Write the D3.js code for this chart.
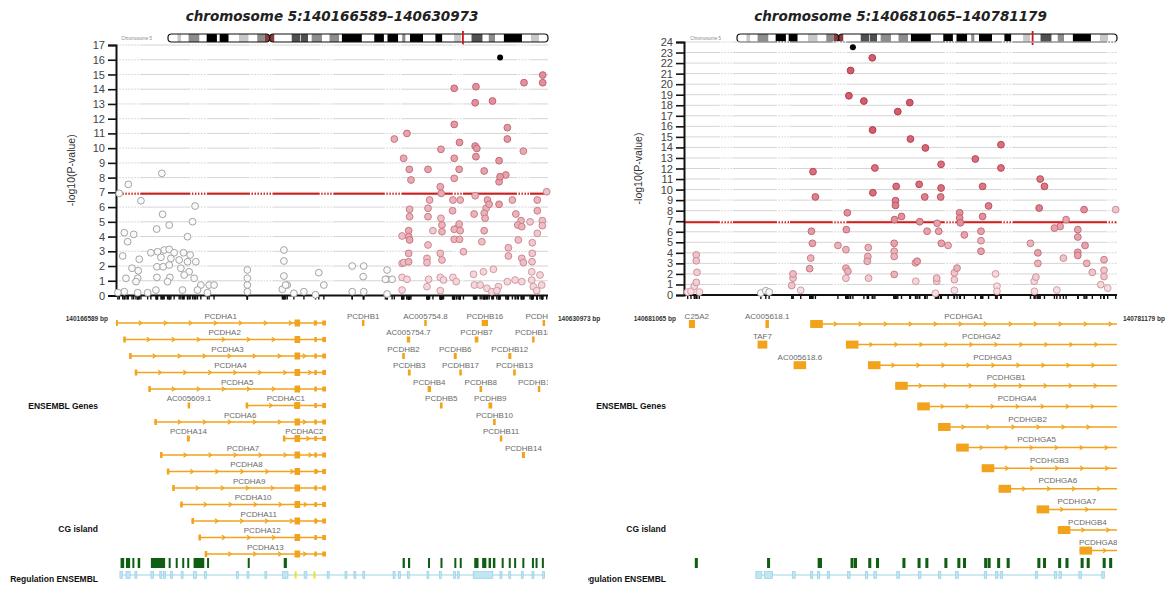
<!DOCTYPE html>
<html><head><meta charset="utf-8">
<script src="https://cdn.jsdelivr.net/npm/d3@7"></script>
<style>body{margin:0;background:#fff}svg{display:block}</style>
</head><body>
<svg id="c" width="1174" height="590"></svg>
<script>
// ---------------- DATA ----------------
const chrom = 5;
const regionLeft = [140166589, 140630973];
const regionRight = [140681065, 140781179];
const yTicksLeft = [0,1,2,3,4,5,6,7,8,9,10,11,12,13,14,15,16,17];
const yTicksRight = [0,1,2,3,4,5,6,7,8,9,10,11,12,13,14,15,16,17,18,19,20,21,22,23,24];
const threshold = 6.9;

// chr5 cytobands (Mb)
const chr5Bands = [[0,4.5,"gneg"],[4.5,6.3,"gpos25"],[6.3,9.8,"gneg"],[9.8,15,"gpos50"],[15,18.4,"gneg"],[18.4,23.3,"gpos100"],[23.3,24.6,"gneg"],[24.6,28.9,"gpos100"],[28.9,33.8,"gneg"],[33.8,38.4,"gpos25"],[38.4,42.5,"gneg"],[42.5,46.1,"gpos50"],[46.1,48.4,"acen"],[48.4,50.7,"acen"],[50.7,58.9,"gneg"],[58.9,62.9,"gpos75"],[62.9,63.2,"gneg"],[63.2,66.7,"gpos75"],[66.7,68.4,"gneg"],[68.4,73.3,"gpos50"],[73.3,76.9,"gneg"],[76.9,81.4,"gpos50"],[81.4,82.8,"gneg"],[82.8,92.3,"gpos100"],[92.3,98.2,"gneg"],[98.2,102.8,"gpos100"],[102.8,104.5,"gneg"],[104.5,109.6,"gpos100"],[109.6,111.5,"gneg"],[111.5,113.1,"gpos50"],[113.1,115.2,"gneg"],[115.2,121.4,"gpos100"],[121.4,127.3,"gneg"],[127.3,130.6,"gpos100"],[130.6,136.2,"gneg"],[136.2,139.5,"gpos25"],[139.5,144.5,"gneg"],[144.5,149.8,"gpos75"],[149.8,152.7,"gneg"],[152.7,155.7,"gpos50"],[155.7,159.9,"gneg"],[159.9,168.5,"gpos100"],[168.5,172.8,"gneg"],[172.8,176.6,"gpos25"],[176.6,180.9,"gneg"]];
const chr5Length = 180.9;
const chr5Centromere = 48.4;

// SNPs: [kb from region start, -log10(P), r2 with lead SNP]
const leftSnps = [
[3.5,6.93,.05],[13.2,7.54,.05],[49.3,8.29,.05],[26.8,6.43,.05],[85.0,6.07,.05],[50.1,5.51,.05],[82.3,5.01,.05],[57.2,4.78,.05],[43.7,4.51,.05],[8.9,4.26,.05],[19.0,4.15,.05],[12.5,3.65,.05],[76.9,3.99,.05],[7.2,2.68,.05],[25.0,2.46,.05],[37.5,2.9,.05],[44.7,2.97,.05],[51.8,3.09,.05],[57.2,3.13,.05],[62.5,2.9,.05],[72.6,2.9,.05],[79.7,2.75,.05],[85.8,2.29,.05],[48.3,2.59,.05],[59.0,2.52,.05],[67.9,2.41,.05],[76.9,2.29,.05],[44.0,1.95,.05],[50.7,1.95,.05],[57.2,2.07,.05],[69.7,1.85,.05],[78.6,1.61,.05],[17.2,1.85,.05],[23.9,1.68,.05],[10.7,1.17,.05],[23.3,1.17,.05],[44.0,1.23,.05],[57.9,1.23,.05],[73.3,1.39,.05],[84.0,1.17,.05],[91.2,0.71,.05],[100.1,0.71,.05],[105.4,0.71,.05],[21.5,0.94,.05],[55.4,0.94,.05],[8.9,0.26,.05],[23.3,0.19,.05],[42.9,0.37,.05],[71.5,0.37,.05],[87.6,0.37,.05],[98.3,0.19,.05],[34.0,0.19,.05],[2.0,0.2,.05],[141.2,1.73,.05],[141.2,1.17,.05],[141.2,0.71,.05],[141.2,0.26,.05],[180.5,3.09,.05],[180.5,2.34,.05],[180.5,1.32,.05],[184.1,0.71,.05],[178.8,0.42,.05],[191.2,0.15,.05],[253.9,2.0,.05],[266.3,2.0,.05],[218.0,1.55,.05],[265.7,1.28,.05],[291.4,1.73,.05],[291.4,1.1,.05],[296.8,1.1,.05],[223.4,0.71,.05],[182.3,0.71,.05],[202.0,0.26,.05],[253.9,0.26,.05],[266.3,0.26,.05],[291.4,0.1,.05],[214.5,0.05,.05],
[458.7,14.96,.6],[458.7,14.44,.6],[438.6,14.44,.6],[386.9,14.17,.6],[363.6,14.06,.6],[386.1,13.08,.6],[404.7,13.2,.6],[363.6,11.61,.55],[420.7,11.39,.55],[420.7,10.62,.55],[312.8,11.0,.5],[299.2,10.62,.45],[369.3,10.39,.55],[349.3,9.92,.5],[386.1,10.14,.55],[387.9,9.98,.55],[437.9,9.8,.45],[309.2,9.31,.45],[363.6,9.31,.5],[386.9,9.42,.55],[411.8,9.15,.55],[315.3,8.56,.5],[335.4,8.56,.5],[368.9,8.56,.5],[395.8,8.45,.5],[419.0,8.18,.5],[412.9,8.06,.55],[411.8,7.72,.5],[317.1,7.84,.45],[363.6,7.95,.45],[348.6,7.38,.45],[349.6,6.93,.45],[463.0,7.04,.33],[386.1,6.77,.4],[337.1,6.48,.4],[362.2,6.48,.4],[370.0,6.48,.4],[399.3,6.48,.45],[401.1,6.19,.45],[411.8,6.19,.5],[426.1,6.48,.4],[452.9,6.48,.4],[315.6,5.85,.4],[335.4,5.92,.4],[361.8,5.75,.4],[397.9,5.92,.4],[395.8,5.58,.4],[385.0,5.53,.4],[429.8,5.53,.4],[452.9,5.75,.4],[315.6,5.35,.4],[335.4,5.35,.4],[396.8,5.24,.4],[349.3,5.24,.33],[368.9,4.85,.4],[350.4,4.78,.4],[366.5,4.56,.28],[340.7,4.4,.28],[350.4,4.33,.4],[363.6,4.49,.4],[370.0,4.4,.4],[435.4,5.08,.4],[445.1,5.0,.28],[431.9,4.78,.4],[436.2,4.67,.4],[458.3,5.08,.33],[458.3,4.74,.33],[314.6,4.4,.45],[314.6,4.0,.45],[315.6,3.77,.45],[307.5,4.04,.33],[395.8,4.4,.4],[393.3,3.65,.33],[363.6,3.81,.4],[369.3,3.81,.4],[335.4,3.43,.33],[373.5,2.97,.33],[432.5,3.77,.33],[452.9,4.22,.28],[447.5,3.58,.28],[421.8,3.24,.33],[421.8,2.68,.33],[314.6,2.86,.4],[348.6,2.86,.33],[334.3,2.52,.33],[334.3,2.23,.33],[350.4,2.41,.33],[314.6,2.29,.4],[309.2,2.23,.33],[436.2,2.52,.33],[437.9,2.23,.33],[447.5,2.86,.28],[447.2,2.29,.28],[395.0,1.61,.2],[405.7,1.78,.2],[384.3,1.44,.2],[446.9,1.61,.2],[455.8,1.39,.2],[289.6,1.1,.05],[307.5,1.23,.2],[312.8,1.1,.2],[336.0,1.1,.2],[348.6,1.23,.2],[352.1,1.05,.2],[362.2,1.23,.2],[365.7,0.94,.2],[385.3,0.71,.2],[391.5,0.71,.2],[398.7,0.49,.2],[411.1,0.6,.2],[420.7,0.94,.2],[429.0,1.05,.2],[436.2,0.94,.2],[446.9,1.05,.2],[448.6,0.6,.2],[457.6,0.71,.2],[307.5,0.37,.2],[348.6,0.33,.2],[334.3,0.6,.2],[404.0,0.26,.2],[409.4,0.33,.2],[452.3,0.33,.2],[307.5,2.18,.28]];
const leadLeft = [412.9, 16.16];

const rightSnps = [
[43.53,22.5,.9],[38.52,21.3,.9],[38.13,18.9,.9],[41.59,18.4,.9],[52.2,18.25,.9],[49.43,17.4,.9],[43.6,15.65,.9],[52.36,14.8,.85],[55.82,13.95,.85],[73.28,14.26,.8],[67.36,12.9,.8],[59.44,12.4,.8],[29.83,11.7,.8],[44.13,12.05,.8],[73.28,12.05,.8],[82.35,11.0,.75],[83.34,10.3,.75],[49.06,10.3,.8],[54.37,10.5,.8],[59.44,10.15,.8],[69.04,10.3,.75],[30.38,9.3,.7],[43.67,9.7,.8],[55.66,9.3,.7],[59.35,9.3,.7],[48.9,8.95,.7],[48.9,8.5,.7],[70.42,8.45,.7],[82.12,8.25,.7],[92.5,8.1,.6],[99.81,8.1,.3],[37.76,7.8,.6],[63.73,7.8,.6],[50.29,7.45,.6],[69.04,7.45,.6],[48.67,7.15,.6],[63.73,7.3,.6],[63.9,6.85,.6],[54.51,6.95,.6],[58.52,6.8,.5],[88.35,7.15,.5],[86.96,6.5,.5],[85.65,6.35,.5],[29.46,6.05,.55],[37.53,6.2,.55],[56.21,6.05,.5],[58.89,6.05,.5],[64.82,5.7,.5],[68.67,6.05,.5],[91.05,6.2,.5],[91.05,5.5,.5],[29.69,4.9,.5],[35.59,4.7,.4],[37.44,4.3,.4],[42.6,4.5,.4],[48.6,4.9,.5],[48.6,4.15,.4],[59.51,4.9,.5],[61.06,4.7,.4],[68.67,5.15,.4],[68.67,4.15,.5],[80.11,4.9,.4],[81.82,4.0,.5],[92.73,4.7,.5],[91.05,4.05,.5],[91.05,3.75,.5],[29.3,3.5,.4],[42.51,3.65,.4],[42.37,3.2,.4],[48.6,3.65,.4],[53.91,3.2,.5],[53.52,3.05,.4],[87.72,3.5,.3],[97.11,3.35,.4],[93.12,3.0,.4],[81.82,3.0,.4],[29.06,2.5,.45],[37.44,2.55,.4],[37.9,2.25,.4],[63.13,2.55,.4],[62.51,2.1,.3],[97.11,2.35,.3],[94.41,2.15,.3],[97.11,1.75,.3],[25.21,2.0,.35],[25.21,1.6,.3],[24.91,0.9,.3],[37.44,1.6,.25],[42.67,1.6,.25],[48.6,1.95,.4],[58.43,1.6,.3],[58.43,1.3,.25],[62.51,1.45,.25],[72.04,2.0,.2],[81.36,1.7,.25],[80.97,1.3,.2],[53.59,1.3,.2],[96.35,0.98,.2],[97.96,0.66,.15],[86.2,0.47,.15],[81.03,0.35,.15],[72.36,0.83,.15],[72.36,0.35,.15],[62.51,0.45,.15],[58.13,0.16,.15],[26.99,0.45,.15],[2.84,3.8,.3],[2.84,3.25,.3],[3.0,2.15,.25],[2.84,1.2,.25],[2.38,0.83,.2],[1.61,0.35,.15],[3.53,0.28,.15],[17.76,0.19,.05],[18.91,0.4,.05],[19.68,0.28,.05],[0.85,0.28,.1]];
const leadRight = [39.05, 23.5];

// Genes (absolute bp). Multi-exon cluster genes: [name, start, lane]
const pcdhaGenes = [["PCDHA1",140165876,0],["PCDHA2",140174429,1],["PCDHA3",140180783,2],["PCDHA4",140186782,3],["PCDHA5",140201370,4],["PCDHAC1",140305985,5],["PCDHA6",140207856,6],["PCDHAC2",140345997,7],["PCDHA7",140213967,8],["PCDHA8",140221261,9],["PCDHA9",140227048,10],["PCDHA10",140235634,11],["PCDHA11",140247745,12],["PCDHA12",140255256,13],["PCDHA13",140261962,14]];
const pcdhaEnd = 140392300;
const pcdhaConstExons = [[140358500,140364500],[140379800,140380600],[140388300,140392300]];
// single-exon genes: [name, start, end, lane]
const leftSingles = [["AC005609.1",140243600,140245400,5],["PCDHA14",140242800,140246000,7],
["PCDHB1",140430979,140433379,0],["AC005754.8",140497900,140499900,0],["PCDHB16",140559700,140566500,0],["PCDHB15",140625147,140627802,0],
["AC005754.7",140479200,140482800,1],["PCDHB7",140552218,140556104,1],["PCDHB18",140613869,140616307,1],
["PCDHB2",140474236,140477059,2],["PCDHB6",140529683,140532850,2],["PCDHB12",140588266,140591597,2],
["PCDHB3",140480348,140483353,3],["PCDHB17",140535577,140538345,3],["PCDHB13",140593440,140596360,3],
["PCDHB4",140501581,140505201,4],["PCDHB8",140557371,140560081,4],["PCDHB19P",140620000,140622500,4],
["PCDHB5",140514800,140517701,5],["PCDHB9",140566969,140571000,5],
["PCDHB10",140571951,140574803,6],["PCDHB11",140579162,140581758,7],["PCDHB14",140602915,140606158,8]];

const pcdhgGenes = [["PCDHGA1",140710252,0],["PCDHGA2",140718500,1],["PCDHGA3",140723600,2],["PCDHGB1",140729900,3],["PCDHGA4",140735000,4],["PCDHGB2",140739800,5],["PCDHGA5",140744000,6],["PCDHGB3",140749900,7],["PCDHGA6",140753800,8],["PCDHGA7",140762600,9],["PCDHGB4",140767500,10],["PCDHGA8",140772500,11]];
const pcdhgEnd = 140781179;
const rightSingles = [["SLC25A2",140682195,140683612,0],["AC005618.1",140699900,140700700,0],["TAF7",140698069,140700332,1],["AC005618.6",140706400,140709300,2]];

// CpG islands [startKb, endKb] from region start
const cgLeft = [[4.9,8.8],[10.7,15.2],[17.6,19.1],[23.3,26.0],[37.5,52.8],[56.6,58.1],[64.2,65.8],[71.2,72.7],[76.6,78.4],[83.4,94.9],[97.9,99.8],[141.6,142.7],[180.3,183.7],[308.1,310.5],[313.9,316.2],[335.4,337.3],[348.8,350.7],[363.7,365.6],[369.5,371.3],[385.1,389.7],[393.6,398.1],[400.5,403.1],[405.1,407.8],[414.6,416.5],[422.2,424.2],[428.0,430.0],[436.8,438.8],[447.1,449.1],[451.0,452.9],[457.8,459.8]];
const cgRight = [[2.5,3.2],[19.2,19.9],[30.9,31.9],[38.5,39.2],[39.3,40.0],[42.6,43.3],[44.4,45.1],[50.5,51.2],[54.0,54.7],[55.8,56.5],[60.2,60.9],[63.2,63.9],[64.5,65.2],[69.4,70.1],[70.2,70.9],[72.4,73.1],[74.6,75.3],[81.7,82.4],[83.0,83.7],[86.5,87.2],[88.2,88.9],[91.7,92.4],[93.1,93.8],[96.8,97.5],[98.3,99.0]];

// Regulatory features [startKb, endKb]
const regLeft = [[4.2,6.9],[10.7,15.2],[20.3,21.3],[37.5,40.5],[47.1,48.1],[50.9,51.9],[58.5,59.5],[70,71],[83.4,86.4],[94.9,95.9],[129.3,130.3],[140.8,141.8],[160,161],[179.1,184.9],[202.2,205.2],[227,228],[246.1,247.1],[255.7,256.7],[265.3,266.3],[297.8,298.8],[303.5,304.5],[313.2,314.2],[334.2,335.2],[347.6,348.6],[362.9,363.9],[366.8,367.8],[384,405.1],[412.7,413.7],[422.2,423.2],[435.6,436.6],[447.1,448.1],[458.6,459.6]];
const regLeftOther = [[192,193.5],[212.3,213.8]];
const regRight = [[16.6,18],[18.6,20.5],[25.1,25.7],[29.2,29.8],[30.8,31.4],[33.1,33.7],[37.8,38.4],[41.9,42.5],[43.9,44.5],[49.2,49.8],[54.2,54.8],[58.8,59.4],[62.8,63.4],[69.4,70],[72,72.6],[73.1,73.7],[81.2,81.8],[85.6,86.2],[86.7,87.3],[91.3,91.9],[96.6,97.2]];
const regRightOther = [];

// stretches (kb) where the horizontal rules render dotted in the source image
const dottedLeft = [[2,26],[80,98],[144,169],[219,235],[289,307],[362,373],[431,445]];
const dottedRight = [[8.3,11.3],[21.5,24.5],[34.4,37.7],[60.3,62.7],[73.5,76.1],[97.8,100]];

// ---------------- DRAWING ----------------
const svg = d3.select("#c");
const FONT = "'Liberation Sans', Arial, sans-serif";
const ORANGE = "#f2a31b";
const bandFill = {gneg:"#ffffff",gpos25:"#c8c8c8",gpos50:"#8c8c8c",gpos75:"#505050",gpos100:"#000000",acen:"#8a3a3a"};

function strokeFor(r){ return r < 0.1 ? "#a4a4a4" : d3.interpolateRgb("#d6a6ad","#b43a4b")(Math.min(1,(r-0.1)/0.8)); }
function fillFor(r){ return r < 0.1 ? "#fafafa" : d3.interpolateRgb("#f8e8ea","#d45d6d")(Math.min(1,(r-0.1)/0.8)); }

let clipId = 0;
function clip(g, x, y, w, h){
  const id = "cp" + (clipId++);
  svg.append("clipPath").attr("id", id).append("rect").attr("x",x).attr("y",y).attr("width",w).attr("height",h);
  return g.append("g").attr("clip-path", `url(#${id})`);
}

function panel(o){
  const g = svg.append("g");
  const [x0, x1] = o.xr;
  const xb = d3.scaleLinear().domain(o.region).range(o.xr);
  const xk = kb => xb(o.region[0] + kb*1000);
  const y = d3.scaleLinear().domain([0, o.ticks[o.ticks.length-1]]).range(o.yr);

  // title
  g.append("text").attr("x",(x0+x1)/2).attr("y",21).attr("text-anchor","middle")
    .attr("font-family","'DejaVu Sans', sans-serif").attr("font-style","italic").attr("font-weight","bold")
    .attr("font-size",13.5).attr("fill","#222")
    .text(`chromosome ${chrom}:${o.region[0]}\u2013${o.region[1]}`);

  // ideogram
  const xi = d3.scaleLinear().domain([0, chr5Length]).range(o.ir);
  const iy = 34, ih = 8;
  g.append("text").attr("x", o.ir[0]-16).attr("y", iy+ih/2+1.5).attr("text-anchor","end")
    .attr("font-family",FONT).attr("font-size",4.5).attr("fill","#888").text("Chromosome " + chrom);
  [[0, chr5Centromere],[chr5Centromere, chr5Length]].forEach(([a,b]) => {
    const id = "arm" + (clipId++);
    svg.append("clipPath").attr("id", id).append("rect").attr("x",xi(a)).attr("y",iy).attr("width",xi(b)-xi(a)).attr("height",ih).attr("rx",3.5);
    const ga = g.append("g").attr("clip-path",`url(#${id})`);
    ga.selectAll("rect").data(chr5Bands.filter(d => d[0] < b && d[1] > a)).join("rect")
      .attr("x", d => xi(d[0])).attr("width", d => Math.max(0.5, xi(d[1])-xi(d[0])))
      .attr("y", iy).attr("height", ih).attr("fill", d => bandFill[d[2]]);
    g.append("rect").attr("x",xi(a)).attr("y",iy).attr("width",xi(b)-xi(a)).attr("height",ih).attr("rx",3.5)
      .attr("fill","none").attr("stroke","#111").attr("stroke-width",1.2);
  });
  const mk = xi((o.region[0]+o.region[1])/2e6);
  g.append("line").attr("x1",mk).attr("x2",mk).attr("y1",iy-3).attr("y2",iy+ih+3).attr("stroke","#d01020").attr("stroke-width",1.8);

  // grid
  const gridVals = o.ticks.filter(t => t > 0);
  g.append("g").selectAll("line").data(gridVals).join("line")
    .attr("x1",x0).attr("x2",x1).attr("y1",d => y(d)).attr("y2",d => y(d))
    .attr("stroke","#d4d4d4").attr("stroke-width",1);

  // threshold
  g.append("line").attr("x1",x0).attr("x2",x1).attr("y1",y(threshold)).attr("y2",y(threshold))
    .attr("stroke","#d41c1c").attr("stroke-width",2);

  // dotted stretches
  const dg = g.append("g");
  o.dotted.forEach(([a,b]) => {
    dg.selectAll(null).data(gridVals).join("line")
      .attr("x1",xk(a)).attr("x2",xk(b)).attr("y1",d => y(d)).attr("y2",d => y(d))
      .attr("stroke","#fff").attr("stroke-width",1.6).attr("stroke-dasharray","1.5 1.5");
    dg.append("line").attr("x1",xk(a)).attr("x2",xk(b)).attr("y1",y(threshold)).attr("y2",y(threshold))
      .attr("stroke","#fff").attr("stroke-width",2.6).attr("stroke-dasharray","1.5 1.5");
  });

  // y axis
  const ax = g.append("g").attr("transform",`translate(${x0},0)`)
    .call(d3.axisLeft(y).tickValues(o.ticks).tickSize(8).tickPadding(3).tickFormat(d3.format("d")));
  ax.select(".domain").attr("stroke","#111").attr("stroke-width",2);
  ax.selectAll(".tick line").attr("stroke","#111").attr("stroke-width",1.6);
  ax.selectAll(".tick text").attr("font-family",FONT).attr("font-size",o.tickFont).attr("fill","#444");

  g.append("text").attr("transform",`translate(${o.ylabX},${(o.yr[0]+o.yr[1])/2}) rotate(-90)`)
    .attr("text-anchor","middle").attr("font-family",FONT).attr("font-size",10.5).attr("fill","#333")
    .text("-log10(P-value)");

  // x axis line + SNP rug
  g.append("line").attr("x1",x0).attr("x2",x1).attr("y1",o.yr[0]).attr("y2",o.yr[0]).attr("stroke","#111").attr("stroke-width",2);
  g.append("g").selectAll("line").data(o.snps.concat([o.lead])).join("line")
    .attr("x1",d => xk(d[0])).attr("x2",d => xk(d[0])).attr("y1",o.yr[0]).attr("y2",o.yr[0]+4)
    .attr("stroke","#111").attr("stroke-width",1.4);

  // points (draw low r2 first)
  const pts = o.snps.slice().sort((a,b) => a[2]-b[2]);
  g.append("g").selectAll("circle").data(pts).join("circle")
    .attr("cx",d => xk(d[0])).attr("cy",d => y(d[1])).attr("r",3.4)
    .attr("fill",d => fillFor(d[2])).attr("stroke",d => strokeFor(d[2])).attr("stroke-width",1);
  g.append("circle").attr("cx",xk(o.lead[0])).attr("cy",y(o.lead[1])).attr("r",3).attr("fill","#000");

  // ---- tracks ----
  const tg = g.append("g");
  const labX = o.trackLabX;
  const labG = o.labClip ? clip(tg, o.labClip, 0, 600, 590) : tg;
  [["ENSEMBL Genes",409],["CG island",532],["Regulation ENSEMBL",582]].forEach(([t,yy]) =>
    labG.append("text").attr("x",labX).attr("y",yy).attr("text-anchor","end")
      .attr("font-family",FONT).attr("font-weight","bold").attr("font-size",8.5).attr("fill","#111").text(t));
  tg.append("text").attr("x",x0-8).attr("y",321).attr("text-anchor","end").attr("font-family",FONT)
    .attr("font-weight","bold").attr("font-size",6.5).attr("fill","#333").text(o.region[0] + " bp");
  tg.append("text").attr("x",x1+o.endLabGap).attr("y",321).attr("text-anchor","start").attr("font-family",FONT)
    .attr("font-weight","bold").attr("font-size",6.5).attr("fill","#333").text(o.region[1] + " bp");

  const gg = clip(tg, x0, 300, x1-x0, 290);
  const rowY = lane => o.row0 + lane*o.rowDy;
  const lbl = (t, cx, yy) => gg.append("text").attr("x",cx).attr("y",yy).attr("text-anchor","middle")
      .attr("font-family",FONT).attr("font-size",8).attr("fill","#6a6a6a").text(t);

  o.cluster.forEach(([name, start, lane]) => {
    const yy = rowY(lane), a = xb(start), b = xb(o.clusterEnd);
    gg.append("line").attr("x1",a).attr("x2",b).attr("y1",yy).attr("y2",yy).attr("stroke",ORANGE).attr("stroke-width",1.5);
    for (let t = a + 25; t < b - 6; t += 25)
      gg.append("path").attr("d",`M${t-1.5},${yy-2.2}L${t+1.5},${yy}L${t-1.5},${yy+2.2}`).attr("fill","none").attr("stroke",ORANGE).attr("stroke-width",1.3);
    const fw = Math.max(o.minBox, xb(start + o.firstExon) - a);
    gg.append("rect").attr("x",a).attr("y",yy-o.firstH/2).attr("width",fw).attr("height",o.firstH).attr("fill",ORANGE);
    o.constEx.forEach(([s,e], i) => {
      const h = i === 0 ? 7 : 5;
      gg.append("rect").attr("x",xb(s)).attr("y",yy-h/2).attr("width",Math.max(2.5, xb(e)-xb(s))).attr("height",h).attr("fill",ORANGE);
    });
    lbl(name, (a+b)/2, yy - o.labOff);
  });
  o.singles.forEach(([name, s, e, lane]) => {
    const yy = rowY(lane), a = xb(s), w = Math.max(o.minBox, xb(e)-a);
    gg.append("rect").attr("x",a).attr("y",yy-o.singleH/2).attr("width",w).attr("height",o.singleH).attr("fill",ORANGE);
    lbl(name, a + w/2, yy - o.labOff);
  });

  // CpG islands
  gg.append("g").selectAll("rect").data(o.cg).join("rect")
    .attr("x",d => xk(d[0])).attr("width",d => Math.max(2, xk(d[1])-xk(d[0])))
    .attr("y",558).attr("height",10).attr("fill","#0f5f12");

  // Regulation
  const all = o.reg.concat(o.regOther);
  const rmin = d3.min(all, d => d[0]), rmax = d3.max(all, d => d[1]);
  gg.append("line").attr("x1",xk(rmin)).attr("x2",xk(rmax)).attr("y1",575).attr("y2",575).attr("stroke","#9fd3e6").attr("stroke-width",1.2);
  gg.append("g").selectAll("rect").data(o.reg).join("rect")
    .attr("x",d => xk(d[0])).attr("width",d => Math.max(2, xk(d[1])-xk(d[0])))
    .attr("y",571.5).attr("height",7).attr("fill","#bfe6f3").attr("stroke","#8ccbe0").attr("stroke-width",0.6);
  gg.append("g").selectAll("rect").data(o.regOther).join("rect")
    .attr("x",d => xk(d[0])).attr("width",d => Math.max(2, xk(d[1])-xk(d[0])))
    .attr("y",571.5).attr("height",7).attr("fill","#f2e018");
}

panel({region:regionLeft, xr:[116,548], yr:[295.5,45], ticks:yTicksLeft, ir:[168,548], ylabX:75, tickFont:11,
  snps:leftSnps, lead:leadLeft, trackLabX:98, labClip:null, endLabGap:10, dotted:dottedLeft,
  row0:323, rowDy:16.5, labOff:4.5, firstExon:2400, firstH:6, singleH:6, minBox:2.5,
  cluster:pcdhaGenes, clusterEnd:pcdhaEnd, constEx:pcdhaConstExons, singles:leftSingles,
  cg:cgLeft, reg:regLeft, regOther:regLeftOther});

panel({region:regionRight, xr:[684,1117], yr:[295,42], ticks:yTicksRight, ir:[737,1117], ylabX:642, tickFont:11,
  snps:rightSnps, lead:leadRight, trackLabX:666, labClip:588, endLabGap:6, dotted:dottedRight,
  row0:324, rowDy:20.6, labOff:5.5, firstExon:2900, firstH:8, singleH:8, minBox:3,
  cluster:pcdhgGenes, clusterEnd:pcdhgEnd, constEx:[], singles:rightSingles,
  cg:cgRight, reg:regRight, regOther:regRightOther});
</script>
</body></html>
